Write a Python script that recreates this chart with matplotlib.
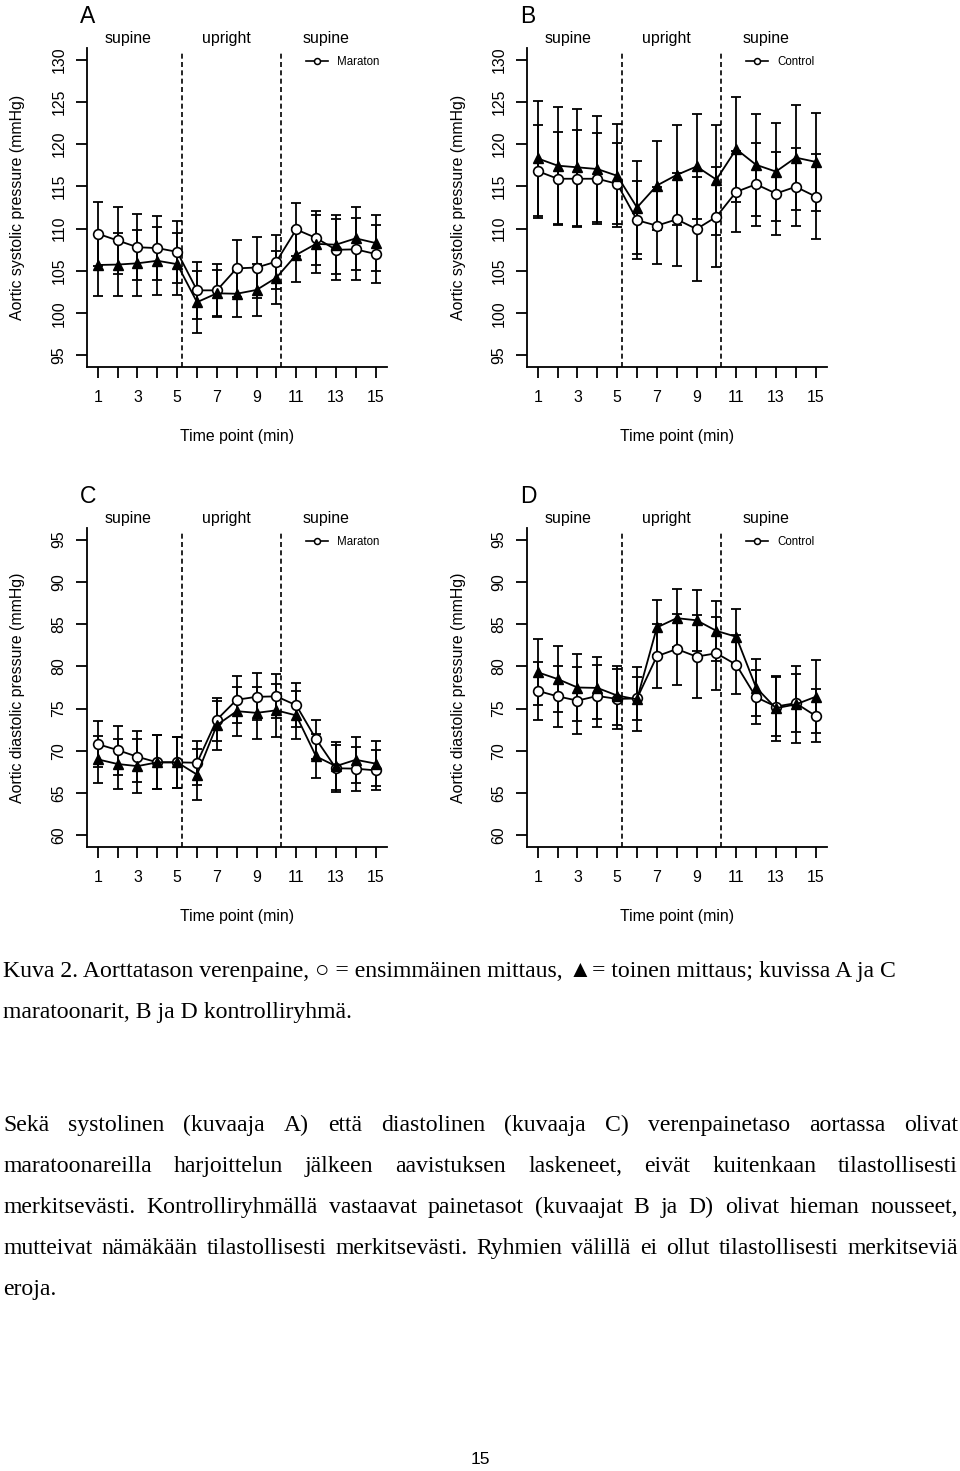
import matplotlib
matplotlib.use('Agg')
import matplotlib.pyplot as plt
from matplotlib.lines import Line2D

plt.rcParams['font.family'] = ['Liberation Sans', 'DejaVu Sans']
plt.rcParams['lines.scale_dashes'] = False

# ---------------- data ----------------
time_points = list(range(1, 16))
x_tick_labels = ['1', '', '3', '', '5', '', '7', '', '9', '', '11', '', '13', '', '15']
sys_ticks = [95, 100, 105, 110, 115, 120, 125, 130]
dia_ticks = [60, 65, 70, 75, 80, 85, 90, 95]
phase_names = ['supine', 'upright', 'supine']
phase_centers = [2.5, 7.5, 12.5]
phase_breaks = [5.25, 10.25]

# Panel A: marathon, systolic
sys_mar_first = [109.4, 108.6, 107.8, 107.7, 107.25, 102.7, 102.7, 105.3, 105.4, 106.1, 109.9, 108.9, 107.5, 107.55, 107.0]
sys_mar_first_sd = [3.8, 4.0, 3.9, 3.75, 3.65, 3.4, 3.1, 3.4, 3.6, 3.2, 3.1, 3.2, 3.6, 3.65, 3.4]
sys_mar_second = [105.7, 105.75, 105.9, 106.2, 105.8, 101.3, 102.35, 102.3, 102.75, 104.2, 106.9, 108.2, 108.1, 108.85, 108.3]
sys_mar_second_sd = [3.7, 3.7, 3.9, 4.0, 3.65, 3.7, 2.7, 2.7, 3.05, 3.1, 3.2, 3.45, 3.5, 3.7, 3.35]

# Panel B: control, systolic
sys_ctl_first = [116.8, 115.9, 115.9, 115.9, 115.3, 111.0, 110.35, 111.1, 109.95, 111.4, 114.35, 115.25, 114.15, 114.95, 113.8]
sys_ctl_first_sd = [5.5, 5.5, 5.75, 5.4, 4.8, 4.65, 4.55, 5.5, 6.15, 5.9, 4.8, 4.9, 4.9, 4.6, 5.0]
sys_ctl_second = [118.3, 117.45, 117.25, 117.05, 116.25, 112.5, 115.1, 116.35, 117.35, 115.8, 119.4, 117.55, 116.75, 118.4, 117.9]
sys_ctl_second_sd = [6.85, 6.95, 6.95, 6.3, 6.1, 5.5, 5.3, 5.9, 6.2, 6.5, 6.2, 6.05, 5.8, 6.2, 5.8]

# Panel C: marathon, diastolic
dia_mar_first = [70.8, 70.1, 69.3, 68.65, 68.65, 68.6, 73.7, 76.05, 76.4, 76.45, 75.4, 71.4, 67.95, 67.9, 67.7]
dia_mar_first_sd = [2.7, 2.9, 3.0, 3.2, 3.0, 2.6, 2.55, 2.8, 2.8, 2.6, 2.6, 2.3, 2.8, 2.6, 2.35]
dia_mar_second = [69.0, 68.45, 68.2, 68.65, 68.65, 67.2, 73.05, 74.7, 74.5, 74.8, 74.2, 69.35, 68.2, 68.95, 68.5]
dia_mar_second_sd = [2.8, 2.9, 3.2, 3.2, 3.0, 3.0, 2.9, 2.9, 3.1, 3.15, 2.85, 2.6, 2.8, 2.75, 2.7]

# Panel D: control, diastolic
dia_ctl_first = [77.1, 76.45, 75.95, 76.5, 76.15, 76.2, 81.2, 82.05, 81.15, 81.55, 80.2, 76.35, 75.25, 75.65, 74.15]
dia_ctl_first_sd = [3.45, 3.6, 4.0, 3.7, 3.55, 2.6, 3.8, 4.2, 4.9, 4.3, 3.5, 3.2, 3.5, 3.4, 3.15]
dia_ctl_second = [79.3, 78.5, 77.5, 77.45, 76.55, 76.1, 84.6, 85.7, 85.45, 84.2, 83.5, 77.5, 75.05, 75.5, 76.4]
dia_ctl_second_sd = [3.9, 3.9, 3.95, 3.65, 3.45, 3.8, 3.25, 3.45, 3.6, 3.55, 3.25, 3.4, 3.85, 4.6, 4.3]

caption_lines = [
    "Kuva 2. Aorttatason verenpaine, \u25cb = ensimmäinen mittaus, \u25b2= toinen mittaus; kuvissa A ja C",
    "maratoonarit, B ja D kontrolliryhmä.",
]
paragraph_lines = [
    "Sekä systolinen (kuvaaja A) että diastolinen (kuvaaja C) verenpainetaso aortassa olivat",
    "maratoonareilla harjoittelun jälkeen aavistuksen laskeneet, eivät kuitenkaan tilastollisesti",
    "merkitsevästi. Kontrolliryhmällä vastaavat painetasot (kuvaajat B ja D) olivat hieman nousseet,",
    "mutteivat nämäkään tilastollisesti merkitsevästi. Ryhmien välillä ei ollut tilastollisesti merkitseviä",
    "eroja.",
]
page_number = "15"

# ---------------- figure ----------------
W, H = 960, 1471
fig = plt.figure(figsize=(W / 100, H / 100), dpi=100)


def px_axes(left, top, right, bottom):
    return fig.add_axes([left / W, 1 - bottom / H, (right - left) / W, (bottom - top) / H])


panels = [
    dict(letter='A', dx=0, dy=0, ticks=sys_ticks, ylabel='Aortic systolic pressure (mmHg)', legend='Maraton',
         first=sys_mar_first, first_sd=sys_mar_first_sd, second=sys_mar_second, second_sd=sys_mar_second_sd),
    dict(letter='B', dx=440, dy=0, ticks=sys_ticks, ylabel='Aortic systolic pressure (mmHg)', legend='Control',
         first=sys_ctl_first, first_sd=sys_ctl_first_sd, second=sys_ctl_second, second_sd=sys_ctl_second_sd),
    dict(letter='C', dx=0, dy=480, ticks=dia_ticks, ylabel='Aortic diastolic pressure (mmHg)', legend='Maraton',
         first=dia_mar_first, first_sd=dia_mar_first_sd, second=dia_mar_second, second_sd=dia_mar_second_sd),
    dict(letter='D', dx=440, dy=480, ticks=dia_ticks, ylabel='Aortic diastolic pressure (mmHg)', legend='Control',
         first=dia_ctl_first, first_sd=dia_ctl_first_sd, second=dia_ctl_second, second_sd=dia_ctl_second_sd),
]

FS = 11.4
LW = 1.3
L, T, R, B = 86.7, 47.7, 386.7, 367.3
for p in panels:
    dx, dy = p['dx'], p['dy']
    ax = px_axes(L + dx, T + dy, R + dx, B + dy)
    t0, t1 = p['ticks'][0], p['ticks'][-1]
    ext = (t1 - t0) * 0.04
    ax.set_ylim(t0 - ext, t1 + ext)
    ax.set_xlim(1 - 14 * 0.04, 15 + 14 * 0.04)
    for s in ['top', 'right']:
        ax.spines[s].set_visible(False)
    for s in ['left', 'bottom']:
        ax.spines[s].set_linewidth(1.3)
    ax.set_xticks(time_points)
    ax.set_xticklabels(x_tick_labels)
    ax.set_yticks(p['ticks'])
    ax.set_yticklabels([str(v) for v in p['ticks']], rotation=90, va='center')
    ax.tick_params(axis='both', direction='out', length=7.8, width=1.3, labelsize=FS)
    ax.tick_params(axis='x', pad=8.4)
    ax.tick_params(axis='y', pad=6.8)

    for xb in phase_breaks:
        ax.axvline(xb, ymin=0, ymax=0.99, color='black', lw=1.2, ls=(0, (3.6, 2.4)), zorder=1)

    ax.errorbar(time_points, p['first'], yerr=p['first_sd'], fmt='none', ecolor='black',
                elinewidth=LW, capsize=3.6, capthick=LW, zorder=2)
    ax.errorbar(time_points, p['second'], yerr=p['second_sd'], fmt='none', ecolor='black',
                elinewidth=LW, capsize=3.6, capthick=LW, zorder=2)
    ax.plot(time_points, p['first'], color='black', lw=LW, marker='o', ms=7.0,
            mfc='white', mec='black', mew=1.2, zorder=4)
    ax.plot(time_points, p['second'], color='black', lw=LW, marker='^', ms=7.4,
            mfc='black', mec='black', zorder=5)

    ytxt = (B - 43.0) / (B - T)
    for name, xc in zip(phase_names, phase_centers):
        ax.text(xc, ytxt, name, transform=ax.get_xaxis_transform(), ha='center', va='baseline',
                fontsize=FS, clip_on=False)

    h = Line2D([], [], color='black', lw=1.2, marker='o', ms=4.3, mfc='white', mec='black', mew=1.1)
    ax.legend(handles=[h], labels=[p['legend']], loc='center left',
              bbox_to_anchor=((306 - L) / (R - L), (B - 61.7) / (B - T)),
              frameon=False, fontsize=8.3, handlelength=1.9, handletextpad=0.8,
              borderpad=0, borderaxespad=0, numpoints=1)

    fig.text((80 + dx) / W, 1 - (23.3 + dy) / H, p['letter'], fontsize=16.5, ha='left', va='baseline')
    fig.text((18 + dx) / W, 1 - (207.5 + dy) / H, p['ylabel'], rotation=90, fontsize=FS,
             ha='center', va='center')
    fig.text((236.7 + dx) / W, 1 - (437 + dy) / H, 'Time point (min)', fontsize=FS,
             ha='center', va='center')

# ---------------- text below the figure ----------------
serif = ['Liberation Serif', 'DejaVu Sans']
TFS = 17.1
renderer = fig.canvas.get_renderer()


def width_of(t):
    return t.get_window_extent(renderer=renderer).width


def put_justified(line, y_base, x0=3, x1=958):
    words = line.split(' ')
    ts = [fig.text(0, 1 - y_base / H, w, fontsize=TFS, family=serif, ha='left', va='baseline') for w in words]
    widths = [width_of(t) for t in ts]
    gap = (x1 - x0 - sum(widths)) / (len(words) - 1)
    x = x0
    for t, w in zip(ts, widths):
        t.set_x(x / W)
        x += w + gap


cap_base = [977, 1018]
for line, yb in zip(caption_lines, cap_base):
    fig.text(3 / W, 1 - yb / H, line, fontsize=TFS, family=serif, ha='left', va='baseline')

par_base = [1131, 1172, 1213, 1254, 1295]
for i, (line, yb) in enumerate(zip(paragraph_lines, par_base)):
    if i < len(paragraph_lines) - 1:
        put_justified(line, yb)
    else:
        fig.text(3 / W, 1 - yb / H, line, fontsize=TFS, family=serif, ha='left', va='baseline')

fig.text(480 / W, 1 - 1460 / H, page_number, fontsize=12.5, ha='center', va='center')

fig.savefig('out.png', dpi=100)
